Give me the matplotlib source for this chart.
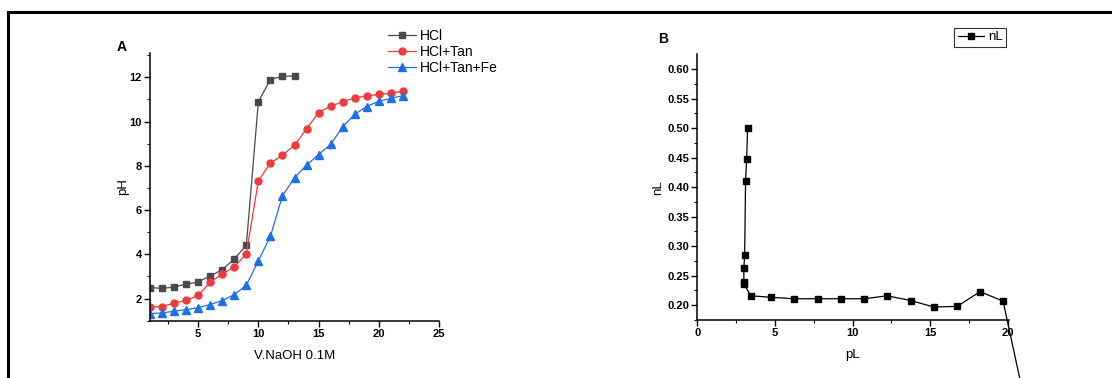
import numpy as np
import matplotlib
matplotlib.use("Agg")
import matplotlib.pyplot as plt
from matplotlib.lines import Line2D

plt.rcParams['font.family'] = ['Liberation Sans', 'DejaVu Sans']

# panel A: titration curves
v_hcl = [1, 2, 3, 4, 5, 6, 7, 8, 9, 10, 11, 12, 13]
ph_hcl = [2.50, 2.46, 2.52, 2.65, 2.75, 3.02, 3.31, 3.79, 4.41, 10.90, 11.90, 12.05, 12.06]

v_tan = [1, 2, 3, 4, 5, 6, 7, 8, 9, 10, 11, 12, 13, 14, 15, 16, 17, 18, 19, 20, 21, 22]
ph_tan = [1.62, 1.64, 1.79, 1.92, 2.14, 2.74, 3.11, 3.43, 4.03, 7.32, 8.13, 8.48,
          8.93, 9.67, 10.41, 10.69, 10.90, 11.07, 11.16, 11.23, 11.28, 11.37]

v_fe = [1, 2, 3, 4, 5, 6, 7, 8, 9, 10, 11, 12, 13, 14, 15, 16, 17, 18, 19, 20, 21, 22]
ph_fe = [1.32, 1.35, 1.43, 1.50, 1.59, 1.73, 1.91, 2.18, 2.60, 3.71, 4.81, 6.65,
         7.46, 8.03, 8.51, 8.97, 9.76, 10.33, 10.68, 10.92, 11.05, 11.17]

# panel B: formation curve
pL = [3.24, 3.18, 3.11, 3.05, 3.00, 3.00, 3.00, 3.45, 4.74, 6.26, 7.76, 9.24,
      10.76, 12.24, 13.74, 15.24, 16.74, 18.22, 19.70, 21.4]
nL = [0.500, 0.448, 0.411, 0.285, 0.263, 0.239, 0.236, 0.216, 0.2135, 0.211,
      0.211, 0.211, 0.211, 0.216, 0.208, 0.197, 0.198, 0.223, 0.207, 0.0]

W, H = 1112, 378
fig = plt.figure(figsize=(W / 100, H / 100), dpi=100)

def style(ax):
    for s in ['top', 'right']:
        ax.spines[s].set_visible(False)
    for s in ['left', 'bottom']:
        ax.spines[s].set_linewidth(1.1)
    ax.tick_params(which='major', direction='out', length=4, width=1, labelsize=8, pad=2)
    ax.tick_params(which='minor', direction='out', length=2.5, width=0.8)
    for lab in ax.get_xticklabels() + ax.get_yticklabels():
        lab.set_fontweight('bold')

axA = fig.add_axes([150 / W, 1 - 320.7 / H, (439 - 150) / W, (320.7 - 53) / H])
axA.plot(v_hcl, ph_hcl, '-s', color='#4a4a4a', lw=0.9, ms=5, label='HCl')
axA.plot(v_tan, ph_tan, '-o', color='#ef3b3b', lw=0.9, ms=5, label='HCl+Tan')
axA.plot(v_fe, ph_fe, '-^', color='#1f6fe5', lw=0.9, ms=5.5, label='HCl+Tan+Fe')
axA.set_xlim(1, 25)
axA.set_ylim(1, 13.1)
axA.set_xticks([5, 10, 15, 20, 25])
axA.set_xticks(np.arange(2.5, 25, 2.5), minor=True)
axA.set_yticks([2, 4, 6, 8, 10, 12])
axA.set_yticks(np.arange(1, 13.1, 1), minor=True)
axA.set_xlabel('V.NaOH 0.1M', fontsize=9.5, labelpad=8)
axA.set_ylabel('pH', fontsize=9.5, labelpad=0)
style(axA)
axA.legend(loc='upper left', bbox_to_anchor=(0.805, 1.11), frameon=False, fontsize=10,
           handlelength=2.0, handletextpad=0.3, labelspacing=0.15, borderaxespad=0)
fig.text(122 / W, 1 - 47 / H, 'A', fontsize=10, fontweight='bold', ha='center', va='center')

axB = fig.add_axes([697.3 / W, 1 - 320 / H, (1008.5 - 697.3) / W, (320 - 54.3) / H])
axB.plot(pL, nL, '-s', color='black', lw=0.9, ms=5, label='nL', clip_on=False)
axB.set_xlim(0, 20.05)
axB.set_ylim(0.1758, 0.625)
axB.set_xticks([0, 5, 10, 15, 20])
axB.set_xticks(np.arange(2.5, 20, 2.5), minor=True)
axB.set_yticks([0.20, 0.25, 0.30, 0.35, 0.40, 0.45, 0.50, 0.55, 0.60])
axB.set_yticks(np.arange(0.175, 0.625, 0.025), minor=True)
axB.yaxis.set_major_formatter(matplotlib.ticker.FormatStrFormatter('%.2f'))
axB.set_xlabel('pL', fontsize=9.5, labelpad=8)
axB.set_ylabel('nL', fontsize=9.5, labelpad=2)
style(axB)
leg = axB.legend(loc='upper left', bbox_to_anchor=(0.826, 1.1), frameon=True, fancybox=False,
                 fontsize=9.5, handlelength=2.0, handletextpad=0.3, borderpad=0.25,
                 borderaxespad=0)
leg.get_frame().set_edgecolor('black')
leg.get_frame().set_linewidth(0.8)
fig.text(662.7 / W, 1 - 39 / H, 'B', fontsize=10, fontweight='bold', ha='center', va='center')

# outer frame (cut at right and bottom)
fig.add_artist(Line2D([8 / W, 8 / W], [0, 1 - 12 / H], color='black', lw=2.2,
                      transform=fig.transFigure, solid_capstyle='projecting'))
fig.add_artist(Line2D([8 / W, 1], [1 - 12 / H, 1 - 12 / H], color='black', lw=2.2,
                      transform=fig.transFigure, solid_capstyle='projecting'))

fig.savefig('out.png', dpi=100)
